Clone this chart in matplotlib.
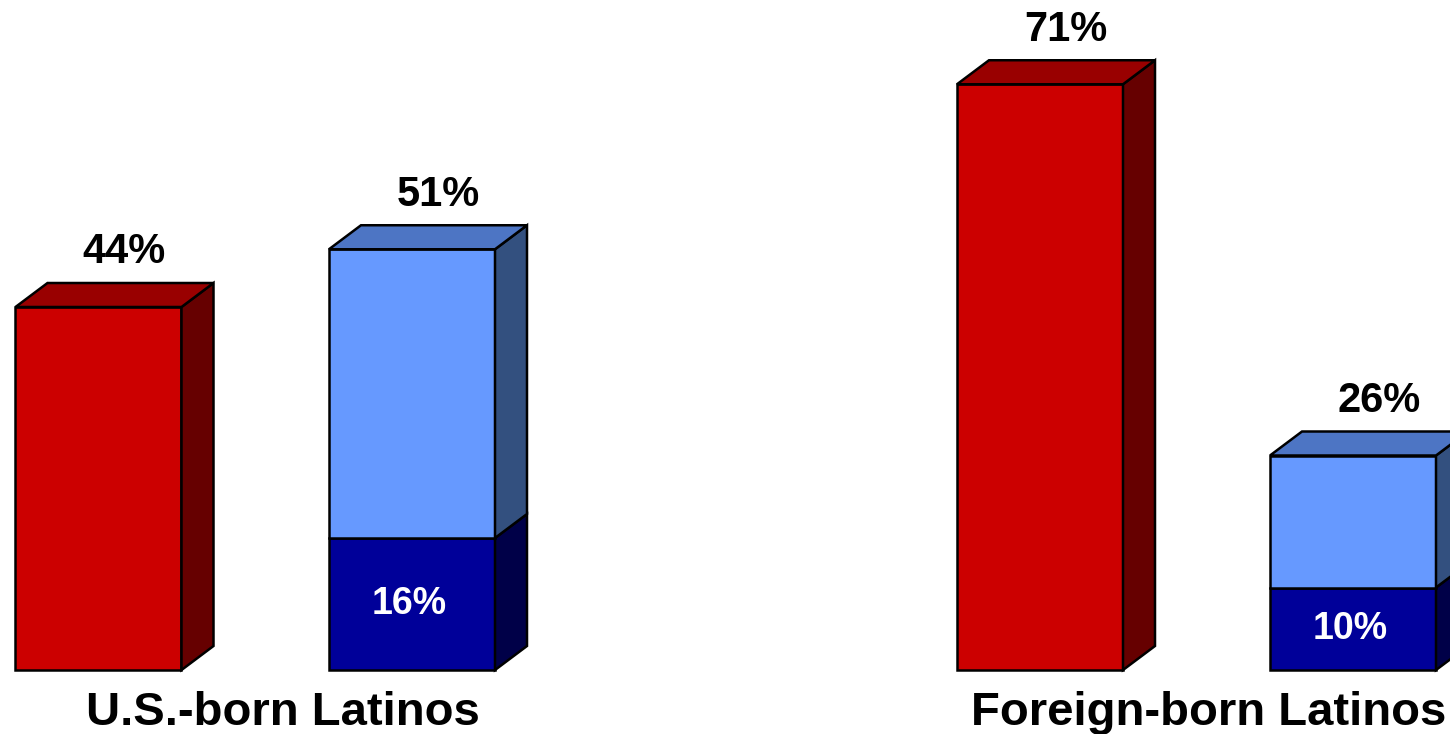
import matplotlib
matplotlib.use("Agg")
import matplotlib.pyplot as plt
from matplotlib.patches import Polygon

# data
groups = ["U.S.-born Latinos", "Foreign-born Latinos"]
red_vals = [44, 71]
blue_totals = [51, 26]
blue_bottoms = [16, 10]

# layout (x in pixel-like units, y in percent)
red_x = [98.5, 1040]
blue_x = [412, 1353]
group_label_x = [283, 1209]
bar_w = 166
dx = 32          # depth offset in x units
dy = 24 / 8.25   # depth offset in percent units

RED = ("#CC0000", "#990000", "#660000")
LIGHT = ("#6699FF", "#4D75C4", "#33507F")
DARK = ("#000099", "#000080", "#000048")

fig = plt.figure(figsize=(14.5, 7.34), dpi=100)
ax = fig.add_axes([0, 0, 1, 1])
ax.set_xlim(0, 1450)
ax.set_ylim(-64 / 8.25, 670 / 8.25)
ax.axis("off")


def box(xc, y0, y1, cols, top=True):
    x0 = xc - bar_w / 2
    x1 = xc + bar_w / 2
    kw = dict(edgecolor="black", linewidth=1.8, joinstyle="miter")
    ax.add_patch(Polygon([(x0, y0), (x1, y0), (x1, y1), (x0, y1)],
                         closed=True, facecolor=cols[0], **kw))
    ax.add_patch(Polygon([(x1, y0), (x1 + dx, y0 + dy), (x1 + dx, y1 + dy), (x1, y1)],
                         closed=True, facecolor=cols[2], **kw))
    if top:
        ax.add_patch(Polygon([(x0, y1), (x1, y1), (x1 + dx, y1 + dy), (x0 + dx, y1 + dy)],
                             closed=True, facecolor=cols[1], **kw))


font = dict(family=["Liberation Sans", "DejaVu Sans"], fontweight="bold")

for i in range(len(groups)):
    box(red_x[i], 0, red_vals[i], RED)
    ax.text(red_x[i] + 26, red_vals[i] + dy + 1.3, f"{red_vals[i]}%",
            ha="center", va="bottom", fontsize=30, color="black", **font)

    box(blue_x[i], 0, blue_bottoms[i], DARK, top=False)
    box(blue_x[i], blue_bottoms[i], blue_totals[i], LIGHT)
    ax.text(blue_x[i] + 26, blue_totals[i] + dy + 1.3, f"{blue_totals[i]}%",
            ha="center", va="bottom", fontsize=30, color="black", **font)
    ax.text(blue_x[i] - 3, blue_bottoms[i] / 2, f"{blue_bottoms[i]}%",
            ha="center", va="center", fontsize=27, color="white", **font)

    ax.text(group_label_x[i], -64 / 8.25 + 21 / 8.25, groups[i], ha="center", va="center",
            fontsize=34, color="black", **font)

fig.savefig("out.png", dpi=100)
